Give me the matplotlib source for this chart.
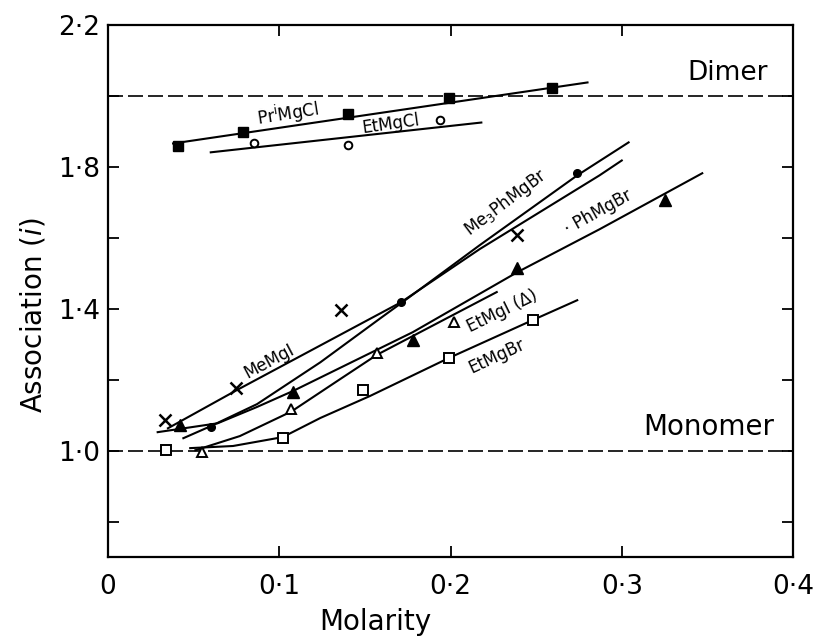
import matplotlib
matplotlib.use("Agg")
import matplotlib.pyplot as plt
from matplotlib.ticker import FixedLocator

# data (Molarity, association i)
pr_x = [0.041, 0.079, 0.140, 0.199, 0.259]
pr_y = [1.858, 1.897, 1.948, 1.993, 2.021]
pr_lx = [0.038, 0.280]
pr_ly = [1.866, 2.038]

etcl_x = [0.085, 0.140, 0.194]
etcl_y = [1.866, 1.861, 1.931]
etcl_lx = [0.060, 0.218]
etcl_ly = [1.841, 1.925]

memgi_x = [0.033, 0.075, 0.136, 0.239]
memgi_y = [1.086, 1.176, 1.396, 1.607]
memgi_lx = [0.035, 0.075, 0.171, 0.217, 0.287, 0.300]
memgi_ly = [1.063, 1.170, 1.418, 1.568, 1.776, 1.818]

me3_x = [0.060, 0.171, 0.274]
me3_y = [1.066, 1.418, 1.782]
me3_lx = [0.044, 0.060, 0.087, 0.124, 0.159, 0.171, 0.217, 0.274, 0.304]
me3_ly = [1.035, 1.069, 1.131, 1.249, 1.373, 1.415, 1.579, 1.776, 1.869]

ph_x = [0.042, 0.108, 0.178, 0.239, 0.325]
ph_y = [1.072, 1.165, 1.311, 1.514, 1.706]
ph_lx = [0.029, 0.064, 0.087, 0.108, 0.178, 0.239, 0.287, 0.347]
ph_ly = [1.052, 1.077, 1.123, 1.168, 1.334, 1.503, 1.624, 1.782]

eti_x = [0.055, 0.107, 0.157, 0.202]
eti_y = [0.996, 1.117, 1.275, 1.362]
eti_lx = [0.051, 0.077, 0.107, 0.136, 0.157, 0.227]
eti_ly = [1.001, 1.041, 1.110, 1.203, 1.270, 1.447]

etbr_x = [0.034, 0.102, 0.149, 0.199, 0.248]
etbr_y = [1.001, 1.035, 1.170, 1.261, 1.368]
etbr_lx = [0.048, 0.073, 0.102, 0.124, 0.153, 0.199, 0.248, 0.274]
etbr_ly = [1.007, 1.013, 1.038, 1.092, 1.154, 1.261, 1.368, 1.424]

xticks = [0, 0.1, 0.2, 0.3, 0.4]
xlabels = ["0", "0·1", "0·2", "0·3", "0·4"]
yticks = [1.0, 1.4, 1.8, 2.2]
ylabels = ["1·0", "1·4", "1·8", "2·2"]
yminor = [0.8, 1.2, 1.6, 2.0]

plt.rcParams['font.family'] = ['DejaVu Sans']

fig = plt.figure(figsize=(8.27, 6.36), dpi=100)
ax = fig.add_axes([0.1306, 0.1242, 0.8283, 0.8365])

lw = 1.5
k = 'black'

# reference levels
ax.plot([0, 0.4], [2.0, 2.0], color=k, lw=1.2, dashes=(9, 3))
ax.plot([0, 0.4], [1.0, 1.0], color=k, lw=1.2, dashes=(9, 3))

ax.plot(pr_lx, pr_ly, color=k, lw=lw)
ax.plot(pr_x, pr_y, 's', color=k, ms=7)

ax.plot(etcl_lx, etcl_ly, color=k, lw=lw)
ax.plot(etcl_x, etcl_y, 'o', mfc='white', mec=k, mew=1.4, ms=5.5)

ax.plot(memgi_lx, memgi_ly, color=k, lw=lw)
ax.plot(memgi_x, memgi_y, 'x', color=k, ms=8, mew=1.8)

ax.plot(me3_lx, me3_ly, color=k, lw=lw)
ax.plot(me3_x, me3_y, 'o', color=k, ms=5.5)

ax.plot(ph_lx, ph_ly, color=k, lw=lw)
ax.plot(ph_x, ph_y, '^', color=k, ms=8)

ax.plot(eti_lx, eti_ly, color=k, lw=lw)
ax.plot(eti_x, eti_y, '^', mfc='white', mec=k, mew=1.4, ms=7.5)

ax.plot(etbr_lx, etbr_ly, color=k, lw=lw)
ax.plot(etbr_x, etbr_y, 's', mfc='white', mec=k, mew=1.4, ms=6.5)

# curve labels
fs = 12
ax.text(0.105, 1.951, r"Pr$^{\rm i}$MgCl", fontsize=fs, rotation=9, ha='center', va='center')
ax.text(0.165, 1.922, "EtMgCl", fontsize=fs, rotation=8, ha='center', va='center')
ax.text(0.232, 1.700, r"Me$_3$PhMgBr", fontsize=fs, rotation=37, ha='center', va='center')
ax.text(0.286, 1.672, "· PhMgBr", fontsize=fs, rotation=29, ha='center', va='center')
ax.text(0.094, 1.252, "MeMgI", fontsize=fs, rotation=28, ha='center', va='center')
ax.text(0.230, 1.393, "EtMgI (Δ)", fontsize=fs, rotation=26, ha='center', va='center')
ax.text(0.227, 1.266, "EtMgBr", fontsize=fs, rotation=25, ha='center', va='center')
ax.text(0.362, 2.066, "Dimer", fontsize=19, ha='center', va='center')
ax.text(0.351, 1.066, "Monomer", fontsize=20, ha='center', va='center')

ax.set_xlim(0, 0.4)
ax.set_ylim(0.7, 2.2)
ax.set_xticks(xticks)
ax.set_xticklabels(xlabels, fontsize=19)
ax.set_yticks(yticks)
ax.set_yticklabels(ylabels, fontsize=19)
ax.yaxis.set_minor_locator(FixedLocator(yminor))
ax.tick_params(axis='both', which='both', direction='in', top=True, right=True,
               length=8, width=1.3)
ax.tick_params(axis='x', pad=12)
ax.tick_params(axis='y', pad=6)
for s in ax.spines.values():
    s.set_linewidth(1.6)

ax.set_xlabel("Molarity", fontsize=20)
ax.xaxis.set_label_coords(0.39, -0.095)
ax.set_ylabel(r"Association ($i$)", fontsize=20)
ax.yaxis.set_label_coords(-0.088, 0.455)

fig.savefig("out.png", dpi=100)
